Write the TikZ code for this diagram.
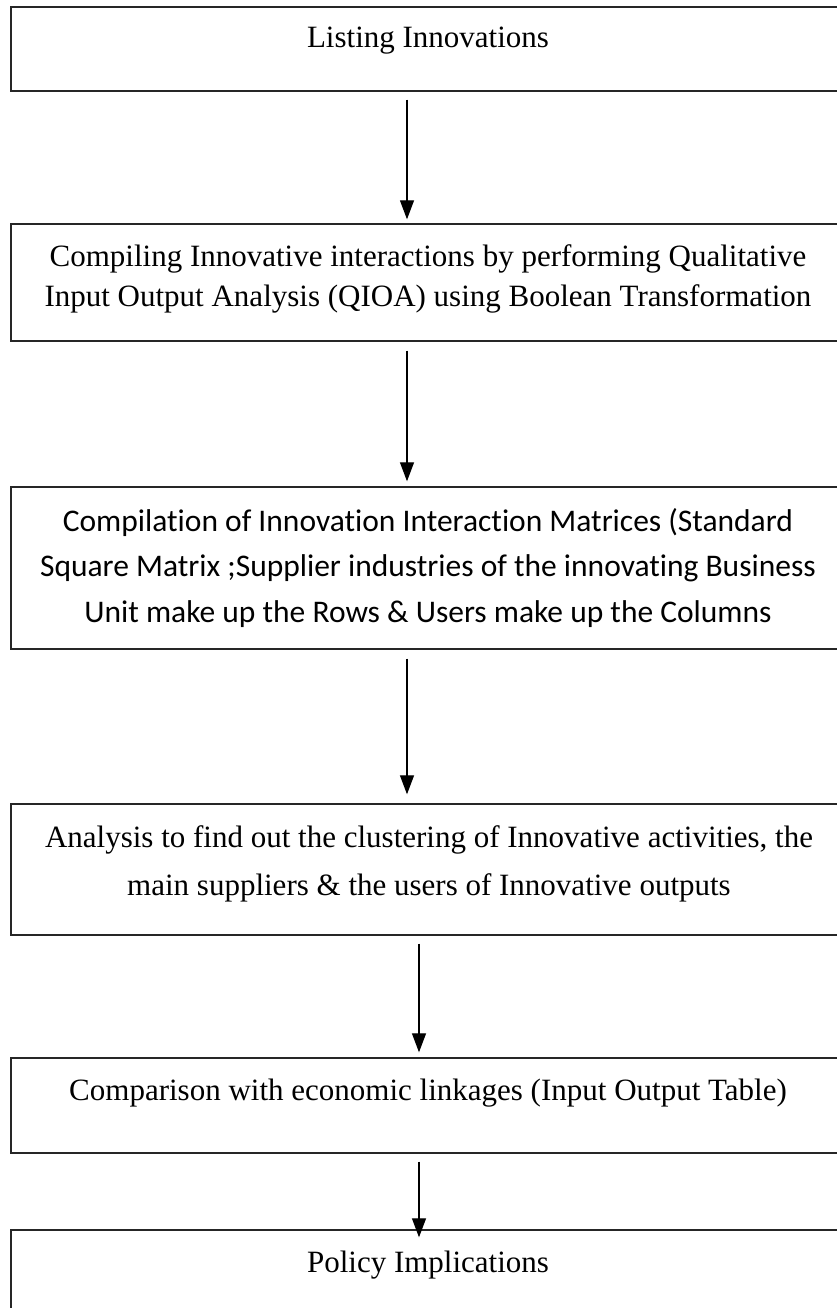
\documentclass[tikz,border=0pt]{standalone}
\usepackage{fontspec}
\setmainfont{Liberation Serif}
\newfontfamily\calibrifont[Ligatures=NoCommon]{Carlito}
\usetikzlibrary{arrows.meta}
\begin{document}
\begin{tikzpicture}[x=1pt,y=1pt,
  box/.style={draw=black!85,line width=1.4pt,minimum width=840pt,inner sep=0pt,rectangle},
  lbl/.style={align=center,inner sep=0pt,font=\fontsize{31}{40}\selectfont},
  arr/.style={-{Triangle[length=19pt,width=14pt]},line width=1.3pt}]
\useasboundingbox (0,0) rectangle (837,-1308);
\clip (0,0) rectangle (837,-1308);
\node[box,minimum height=84pt]  (b1) at (431,-49) {};
\node[box,minimum height=117pt] (b2) at (431,-282.5) {};
\node[box,minimum height=162pt] (b3) at (431,-568) {};
\node[box,minimum height=131pt] (b4) at (431,-869.5) {};
\node[box,minimum height=95pt]  (b5) at (431,-1105.5) {};
\node[box,minimum height=100pt] (b6) at (431,-1280) {};
\node[lbl] (t1) at (428,-41) {Listing Innovations};
\node[lbl] (t2) at (428,-279) {Compiling Innovative interactions by performing Qualitative\\Input Output Analysis (QIOA) using Boolean Transformation};
\node[lbl,font=\calibrifont\fontsize{31.5}{45.5}\selectfont] (t3) at (428,-568) {Compilation of Innovation Interaction Matrices (Standard\\Square Matrix ;Supplier industries of the innovating Business\\Unit make up the Rows \& Users make up the Columns};
\node[lbl,font=\fontsize{31}{48}\selectfont] (t4) at (429,-864) {Analysis to find out the clustering of Innovative activities, the\\main suppliers \& the users of Innovative outputs};
\node[lbl] (t5) at (428,-1093) {Comparison with economic linkages (Input Output Table)};
\node[lbl] (t6) at (428,-1265) {Policy Implications};
\draw[arr] ([xshift=-24pt,yshift=-8pt]b1.south) -- ([xshift=-24pt,yshift=4pt]b2.north);
\draw[arr] ([xshift=-24pt,yshift=-9pt]b2.south) -- ([xshift=-24pt,yshift=5pt]b3.north);
\draw[arr] ([xshift=-24pt,yshift=-9pt]b3.south) -- ([xshift=-24pt,yshift=9pt]b4.north);
\draw[arr] ([xshift=-12pt,yshift=-8pt]b4.south) -- ([xshift=-12pt,yshift=5pt]b5.north);
\draw[arr] ([xshift=-12pt,yshift=-8pt]b5.south) -- ([xshift=-12pt,yshift=-8pt]b6.north);
\end{tikzpicture}
\end{document}
